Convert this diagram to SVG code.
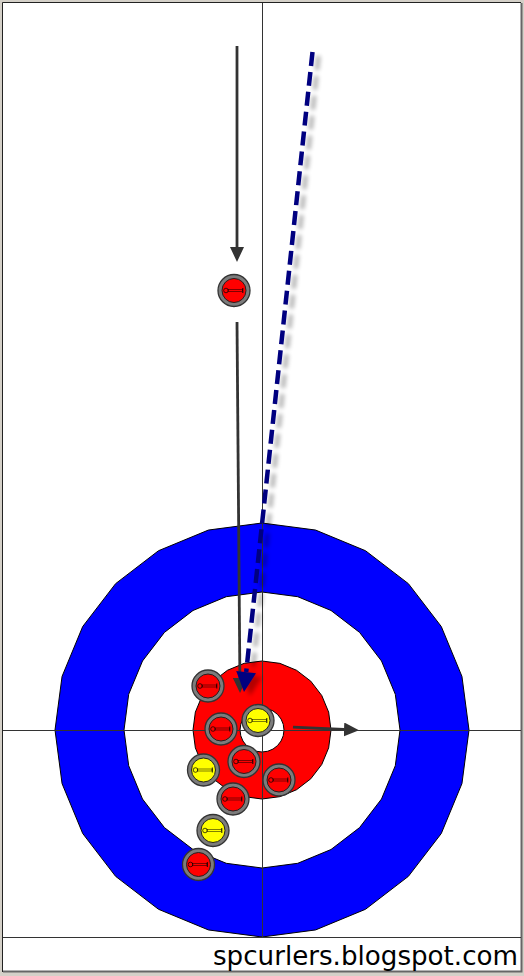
<svg xmlns="http://www.w3.org/2000/svg" xmlns:xlink="http://www.w3.org/1999/xlink" width="524" height="976" viewBox="0 0 524 976">
<style>
.ring{stroke:#000;stroke-width:1}
.line{stroke:#333;stroke-width:1;fill:none}
.arrow{stroke:#333;stroke-width:2.8;fill:none;marker-end:url(#head)}
.granite{fill:#7c7c7c;stroke:#333;stroke-width:1.3}
.red{fill:#ff0000;stroke:#222;stroke-width:1}
.yellow{fill:#ffff00;stroke:#222;stroke-width:1}
.path{stroke:#000080;stroke-width:4.5;fill:none;stroke-dasharray:14 6}
</style>
<defs>
<marker id="head" markerUnits="userSpaceOnUse" markerWidth="15" markerHeight="14" viewBox="0 0 15 14" refX="0" refY="7" orient="auto">
<path d="M0,0 L15,7 L0,14 z" fill="#333"/>
</marker>
<filter id="shadow" x="-60%" y="-5%" width="220%" height="110%">
<feGaussianBlur in="SourceAlpha" stdDeviation="2"/>
<feOffset dx="6" dy="4" result="o"/>
<feComponentTransfer><feFuncA type="linear" slope="0.3"/></feComponentTransfer>
<feMerge><feMergeNode/><feMergeNode in="SourceGraphic"/></feMerge>
</filter>
<g id="handle">
<circle cx="-8" cy="0" r="2.3" fill="none" stroke="#000" stroke-width="0.7"/>
<rect x="-6" y="-1" width="14.5" height="2" fill="none" stroke="#000" stroke-width="0.5"/>
<line x1="8.8" y1="-2.5" x2="8.8" y2="2.5" stroke="#000" stroke-width="0.9"/>
</g>
</defs>
<rect x="0" y="0" width="524" height="976" fill="#d4d0c8"/>
<rect x="3" y="3" width="518" height="969" fill="#ffffff"/>
<path d="M2.5,972 V2.5 H521" stroke="#222" stroke-width="1" fill="none"/>
<path d="M521.5,3 V971.5 H3" stroke="#666" stroke-width="2" fill="none"/>

<g id="house">
<polygon id="ring-12ft" class="ring" fill="#0000ff" points="262,523 315.57,530.06 365.5,550.73 408.37,583.63 441.27,626.5 461.94,676.43 469,730 461.94,783.57 441.27,833.5 408.37,876.37 365.5,909.27 315.57,929.94 262,937 208.43,929.94 158.5,909.27 115.63,876.37 82.73,833.5 62.06,783.57 55,730 62.06,676.43 82.73,626.5 115.63,583.63 158.5,550.73 208.43,530.06"/>
<polygon id="ring-8ft" class="ring" fill="#ffffff" points="262,592 297.72,596.7 331,610.49 359.58,632.42 381.51,661 395.3,694.28 400,730 395.3,765.72 381.51,799 359.58,827.58 331,849.51 297.72,863.3 262,868 226.28,863.3 193,849.51 164.42,827.58 142.49,799 128.7,765.72 124,730 128.7,694.28 142.49,661 164.42,632.42 193,610.49 226.28,596.7"/>
<polygon id="ring-4ft" class="ring" fill="#ff0000" points="262,661 279.86,663.35 296.5,670.25 310.79,681.21 321.75,695.5 328.65,712.14 331,730 328.65,747.86 321.75,764.5 310.79,778.79 296.5,789.75 279.86,796.65 262,799 244.14,796.65 227.5,789.75 213.21,778.79 202.25,764.5 195.35,747.86 193,730 195.35,712.14 202.25,695.5 213.21,681.21 227.5,670.25 244.14,663.35"/>
<polygon id="button" class="ring" fill="#ffffff" points="262,708 267.69,708.75 273,710.95 277.56,714.44 281.05,719 283.25,724.31 284,730 283.25,735.69 281.05,741 277.56,745.56 273,749.05 267.69,751.25 262,752 256.31,751.25 251,749.05 246.44,745.56 242.95,741 240.75,735.69 240,730 240.75,724.31 242.95,719 246.44,714.44 251,710.95 256.31,708.75"/>
</g>

<g id="sheet-lines">
<line class="line" x1="262.5" y1="3" x2="262.5" y2="937"/>
<line class="line" x1="3" y1="730.5" x2="521" y2="730.5"/>
<line class="line" x1="3" y1="937.5" x2="521" y2="937.5"/>
</g>

<g id="stones">
<g id="stone-moving" transform="translate(234,290.5)"><circle class="granite" r="16"/><circle class="red" r="12"/><use xlink:href="#handle"/></g>
<g id="stone-r1" transform="translate(208,686)"><circle class="granite" r="16"/><circle class="red" r="12"/><use xlink:href="#handle"/></g>
<g id="stone-r2" transform="translate(221,729)"><circle class="granite" r="16"/><circle class="red" r="12"/><use xlink:href="#handle"/></g>
<g id="stone-y1" transform="translate(258,720.5)"><circle class="granite" r="16"/><circle class="yellow" r="12"/><use xlink:href="#handle"/></g>
<g id="stone-r3" transform="translate(244,761.5)"><circle class="granite" r="16"/><circle class="red" r="12"/><use xlink:href="#handle"/></g>
<g id="stone-y2" transform="translate(203.5,770)"><circle class="granite" r="16"/><circle class="yellow" r="12"/><use xlink:href="#handle"/></g>
<g id="stone-r4" transform="translate(279,780)"><circle class="granite" r="16"/><circle class="red" r="12"/><use xlink:href="#handle"/></g>
<g id="stone-r5" transform="translate(233,799)"><circle class="granite" r="16"/><circle class="red" r="12"/><use xlink:href="#handle"/></g>
<g id="stone-y3" transform="translate(213,830.5)"><circle class="granite" r="16"/><circle class="yellow" r="12"/><use xlink:href="#handle"/></g>
<g id="stone-r6" transform="translate(198.5,864.5)"><circle class="granite" r="16"/><circle class="red" r="12"/><use xlink:href="#handle"/></g>
</g>

<g id="connectors">
<line class="arrow" x1="237" y1="46" x2="237" y2="247"/>
<line class="arrow" x1="237" y1="322" x2="239.9" y2="678"/>
<line class="arrow" x1="293" y1="727.2" x2="344" y2="729.5"/>
<g id="path-shot" filter="url(#shadow)">
<line class="path" x1="312.5" y1="52" x2="246.2" y2="672"/>
<polygon points="244,692 256,673.2 236.2,671" fill="#000080"/>
</g>
</g>

<text x="213" y="965" font-family="'DejaVu Sans', Verdana, sans-serif" font-size="26" textLength="305" lengthAdjust="spacingAndGlyphs" fill="#000">spcurlers.blogspot.com</text>
</svg>
